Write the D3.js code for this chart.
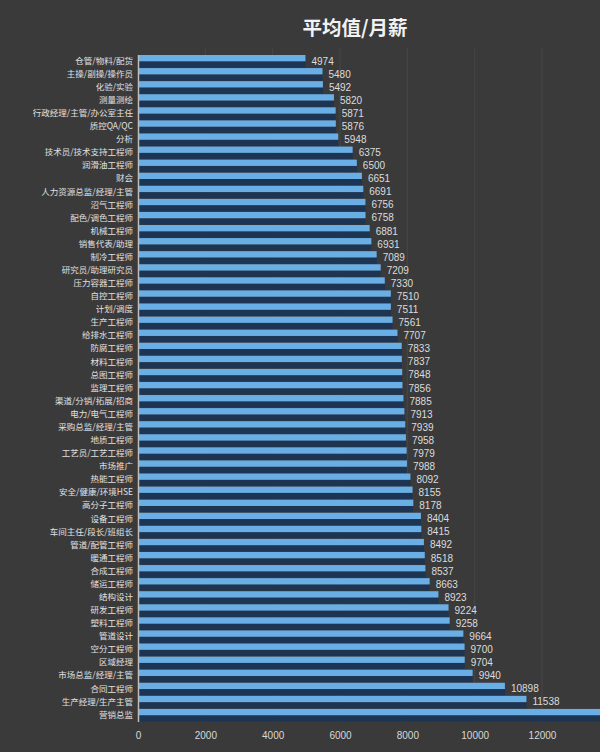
<!DOCTYPE html>
<html>
<head>
<meta charset="utf-8">
<script src="https://cdn.jsdelivr.net/npm/d3@7"></script>
<style>
  html, body { margin: 0; padding: 0; background: #3a3a3b; }
  svg { display: block; }
</style>
</head>
<body>
<div id="chart"></div>
<script>
const title = '平均值/月薪';

const jobs = [
  '仓管/物料/配货', '主操/副操/操作员', '化验/实验', '测量测绘', '行政经理/主管/办公室主任',
  '质控QA/QC', '分析', '技术员/技术支持工程师', '润滑油工程师', '财会',
  '人力资源总监/经理/主管', '沼气工程师', '配色/调色工程师', '机械工程师', '销售代表/助理',
  '制冷工程师', '研究员/助理研究员', '压力容器工程师', '自控工程师', '计划/调度',
  '生产工程师', '给排水工程师', '防腐工程师', '材料工程师', '总图工程师',
  '监理工程师', '渠道/分销/拓展/招商', '电力/电气工程师', '采购总监/经理/主管', '地质工程师',
  '工艺员/工艺工程师', '市场推广', '热能工程师', '安全/健康/环境HSE', '高分子工程师',
  '设备工程师', '车间主任/段长/班组长', '管道/配管工程师', '暖通工程师', '合成工程师',
  '储运工程师', '结构设计', '研发工程师', '塑料工程师', '管道设计',
  '空分工程师', '区域经理', '市场总监/经理/主管', '合同工程师', '生产经理/生产主管',
  '营销总监'
];

const salaries = [
  4974, 5480, 5492, 5820, 5871,
  5876, 5948, 6375, 6500, 6651,
  6691, 6756, 6758, 6881, 6931,
  7089, 7209, 7330, 7510, 7511,
  7561, 7707, 7833, 7837, 7848,
  7856, 7885, 7913, 7939, 7958,
  7979, 7988, 8092, 8155, 8178,
  8404, 8415, 8492, 8518, 8537,
  8663, 8923, 9224, 9258, 9664,
  9700, 9704, 9940, 10898, 11538,
  13900
];

const xTicks = [0, 2000, 4000, 6000, 8000, 10000, 12000];

const W = 600, H = 752;
const rows = jobs.map((j, i) => ({ job: j, value: salaries[i] }));

const svg = d3.select('#chart').append('svg')
  .attr('width', W)
  .attr('height', H);

svg.append('rect')
  .attr('width', W).attr('height', H)
  .attr('fill', '#3a3a3b');

const x = d3.scaleLinear().domain([0, 12000]).range([138, 542]);
const y = d3.scaleBand().domain(jobs).range([54.5, 721.5]).padding(0);

// faint grid
svg.append('g')
  .selectAll('line')
  .data(xTicks.slice(1))
  .enter()
  .append('line')
  .attr('x1', d => x(d)).attr('x2', d => x(d))
  .attr('y1', 48).attr('y2', 722)
  .attr('stroke', '#474748')
  .attr('stroke-width', 1);

svg.append('text')
  .attr('x', 355)
  .attr('y', 35)
  .attr('text-anchor', 'middle')
  .attr('fill', '#f2f2f2')
  .attr('font-family', '"Noto Sans CJK SC", sans-serif')
  .attr('font-size', 19.5)
  .attr('font-weight', 'bold')
  .text(title);

const bw = y.bandwidth();

const bars = svg.append('g');

// dark lower part of each bar
bars.selectAll('.shade')
  .data(rows)
  .enter()
  .append('rect')
  .attr('class', 'shade')
  .attr('x', x(0))
  .attr('y', d => y(d.job) + bw * 0.52)
  .attr('width', d => x(d.value) - x(0))
  .attr('height', bw * 0.48)
  .attr('fill', '#1d3452');

bars.selectAll('.bar')
  .data(rows)
  .enter()
  .append('rect')
  .attr('class', 'bar')
  .attr('x', x(0))
  .attr('y', d => y(d.job) + 0.5)
  .attr('width', d => x(d.value) - x(0))
  .attr('height', bw * 0.52 - 0.5)
  .attr('fill', '#69afe6');

// value labels; the one past the right edge is not shown in the picture
bars.selectAll('.val')
  .data(rows.filter(d => x(d.value) + 30 < W))
  .enter()
  .append('text')
  .attr('class', 'val')
  .attr('x', d => x(d.value) + 6)
  .attr('y', d => y(d.job) + bw / 2)
  .attr('dy', '0.35em')
  .attr('fill', '#dcdcdc')
  .attr('font-family', '"Liberation Sans", Arial, sans-serif')
  .attr('font-size', 10)
  .text(d => d.value);

// category axis
const yAxis = svg.append('g')
  .attr('transform', `translate(${x(0)},0)`)
  .call(d3.axisLeft(y).tickSize(0).tickPadding(5));
yAxis.select('.domain').attr('stroke', '#bdbdbd').attr('stroke-width', 1.5);
yAxis.selectAll('text')
  .attr('fill', '#e0e0e0')
  .attr('font-family', '"Noto Sans CJK SC", sans-serif')
  .attr('font-size', 8.5);

// value axis
const xAxis = svg.append('g')
  .attr('transform', 'translate(0,722)')
  .call(d3.axisBottom(x).tickValues(xTicks).tickSize(0).tickPadding(10).tickFormat(d3.format('d')));
xAxis.select('.domain').remove();
xAxis.selectAll('text')
  .attr('fill', '#d8d8d8')
  .attr('font-family', '"Liberation Sans", Arial, sans-serif')
  .attr('font-size', 10);
</script>
</body>
</html>
